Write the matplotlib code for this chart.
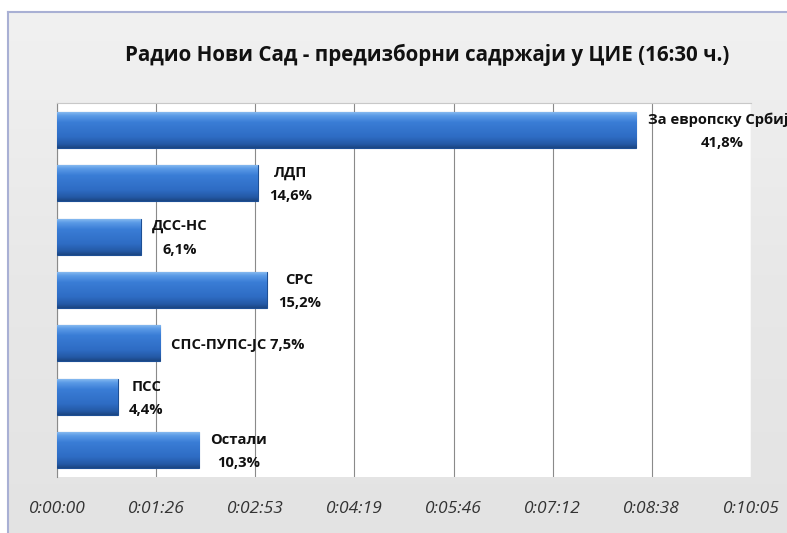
import numpy as np
import matplotlib
matplotlib.use("Agg")
import matplotlib.pyplot as plt
from matplotlib.ticker import FuncFormatter, MultipleLocator

plt.rcParams['font.family'] = ['Open Sans', 'DejaVu Sans']

# ---- data (seconds of airtime) ----
parties = ['За европску Србију', 'ЛДП', 'ДСС-НС', 'СРС', 'СПС-ПУПС-ЈС', 'ПСС', 'Остали']
seconds = [505, 175, 73, 183, 90, 53, 124]
percent = ['41,8%', '14,6%', '6,1%', '15,2%', '7,5%', '4,4%', '10,3%']
single_line = ['СПС-ПУПС-ЈС']
title = 'Радио Нови Сад - предизборни садржаји у ЦИЕ (16:30 ч.)'
tick_step = 86.4      # 0.001 day
x_max = 604.8         # 0.007 day

W, H = 787, 533
fig = plt.figure(figsize=(W / 100, H / 100), dpi=100, facecolor='white')

# chart area background with border
bg = fig.add_axes([8 / W, -0.01, 1.0, 1 - 12 / H + 0.01], zorder=0)
grad = np.linspace(0, 1, 256)[:, None]
bg.imshow(grad, aspect='auto', cmap=matplotlib.colors.LinearSegmentedColormap.from_list(
    'g', ['#f1f1f1', '#e8e8e8', '#e3e3e3']), extent=[0, 1, 0, 1], origin='upper')
bg.set_xlim(0, 1); bg.set_ylim(0, 1)
bg.set_xticks([]); bg.set_yticks([])
for s in ['right', 'bottom']:
    bg.spines[s].set_visible(False)
for s in ['left', 'top']:
    bg.spines[s].set_color('#a9b0d4')
    bg.spines[s].set_linewidth(1.5)

ax = fig.add_axes([57 / W, 1 - 477 / H, (751 - 57) / W, (477 - 103) / H], zorder=1)
ax.set_facecolor('white')

y = np.arange(len(parties))
bars = ax.barh(y, seconds, height=0.675, color='#2f6ec8', edgecolor='#1d4f95',
               linewidth=0.8, zorder=3)

cmap = matplotlib.colors.LinearSegmentedColormap.from_list(
    'b', [(0, '#8fc0f2'), (0.12, '#5a9ae6'), (0.3, '#3a7dd6'), (0.7, '#2e6cc4'), (0.9, '#2459a5'), (1, '#1b4683')])
for b in bars:
    x0, y0, w, h = b.get_x(), b.get_y(), b.get_width(), b.get_height()
    im = ax.imshow(np.linspace(0, 1, 100)[:, None], aspect='auto', cmap=cmap,
                   extent=[x0, x0 + w, y0 + h, y0], origin='upper', zorder=3.5)
    im.set_clip_path(b)

for b, name, pct in zip(bars, parties, percent):
    sep = ' ' if name in single_line else '\n'
    ax.annotate(f'{name}{sep}{pct}', xy=(b.get_width(), b.get_y() + b.get_height() / 2),
                xytext=(8, -1), textcoords='offset points', ha='left', va='center',
                multialignment='center', fontsize=10.6, fontweight='bold', color='#111111',
                linespacing=1.85, annotation_clip=False, zorder=5)

ax.set_ylim(len(parties) - 0.5, -0.5)
ax.set_xlim(0, x_max)
ax.xaxis.set_major_locator(MultipleLocator(tick_step))


def fmt(v, pos):
    s = int(round(v))
    return f'{s // 3600}:{(s % 3600) // 60:02d}:{s % 60:02d}'


ax.xaxis.set_major_formatter(FuncFormatter(fmt))
ax.set_yticks([])
ax.grid(axis='x', color='#8a8a8a', linewidth=0.8, zorder=1)
ax.tick_params(axis='x', length=0, pad=17, labelsize=12.5, labelcolor='#333333')
for lab in ax.get_xticklabels():
    lab.set_fontstyle('italic')
ax.spines['left'].set_color('#8a8a8a')
ax.spines['top'].set_color('#c8c8c8')
ax.spines['right'].set_visible(False)
ax.spines['bottom'].set_visible(False)

fig.text(427 / W, 1 - 55 / H, title, ha='center', va='center', fontsize=14.8,
         fontweight='bold', color='#111111')

fig.savefig('out.png', dpi=100)
